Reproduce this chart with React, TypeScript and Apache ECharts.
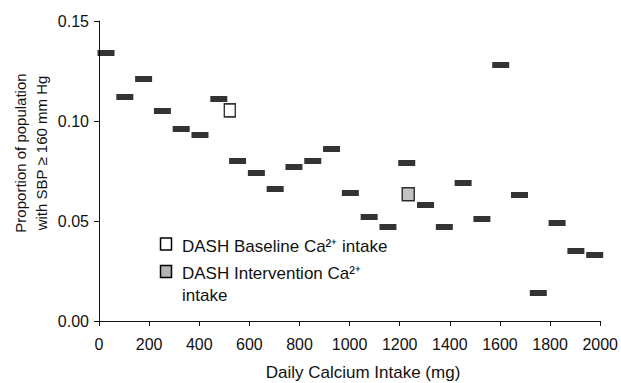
import React, { useEffect, useRef } from "react";
import * as echarts from "echarts";

const intakeMg = [28, 103, 178, 253, 328, 403, 478, 553, 628, 703, 778, 853, 928, 1003, 1078, 1153, 1228, 1303, 1378, 1453, 1528, 1603, 1678, 1753, 1828, 1903, 1978];
const proportion = [0.134, 0.112, 0.121, 0.105, 0.096, 0.093, 0.111, 0.080, 0.074, 0.066, 0.077, 0.080, 0.086, 0.064, 0.052, 0.047, 0.079, 0.058, 0.047, 0.069, 0.051, 0.128, 0.063, 0.014, 0.049, 0.035, 0.033];
const baselinePoint = [522, 0.1053];
const interventionPoint = [1234, 0.0634];
const xTicks = [0, 200, 400, 600, 800, 1000, 1200, 1400, 1600, 1800, 2000];
const yTicks = [0, 0.05, 0.1, 0.15];

const FONT = "'Liberation Sans', Arial, Helvetica, sans-serif";

export default function App() {
  const ref = useRef<HTMLDivElement>(null);
  useEffect(() => {
    if (!ref.current) return;
    const chart = echarts.init(ref.current, null, { renderer: "svg" });
    chart.setOption({
      animation: false,
      backgroundColor: "#ffffff",
      grid: { left: 99, right: 20, top: 21, bottom: 62, containLabel: false },
      xAxis: {
        type: "value",
        min: xTicks[0],
        max: xTicks[xTicks.length - 1],
        interval: 200,
        axisLine: { show: true, lineStyle: { color: "#111", width: 1 } },
        axisTick: { show: true, length: 5, lineStyle: { color: "#111" } },
        axisLabel: {
          color: "#111",
          fontSize: 16,
          fontFamily: FONT,
          margin: 15,
          formatter: (v: number) => String(v),
        },
        splitLine: { show: false },
      },
      yAxis: {
        type: "value",
        min: yTicks[0],
        max: yTicks[yTicks.length - 1],
        interval: 0.05,
        axisLine: { show: true, lineStyle: { color: "#111", width: 1 } },
        axisTick: { show: true, length: 5, lineStyle: { color: "#111" } },
        axisLabel: {
          color: "#111",
          fontSize: 16,
          fontFamily: FONT,
          margin: 10,
          formatter: (v: number) => v.toFixed(2),
        },
        splitLine: { show: false },
      },
      series: [
        {
          type: "scatter",
          name: "Population",
          symbol: "rect",
          symbolSize: [17, 6],
          itemStyle: { color: "#000" },
          data: intakeMg.map((x, i) => [x, proportion[i]]),
          z: 2,
        },
        {
          type: "scatter",
          name: "DASH Baseline",
          symbol: "rect",
          symbolSize: [11, 13],
          itemStyle: { color: "#fff", borderColor: "#000", borderWidth: 1.5 },
          data: [baselinePoint],
          z: 3,
        },
        {
          type: "scatter",
          name: "DASH Intervention",
          symbol: "rect",
          symbolSize: [12, 13],
          itemStyle: { color: "#b4b4b4", borderColor: "#000", borderWidth: 1.5 },
          data: [interventionPoint],
          z: 3,
        },
      ],
      graphic: [
        {
          type: "text",
          x: 30.5,
          y: 153,
          rotation: Math.PI / 2,
          style: {
            text: "Proportion of population\nwith SBP \u2265 160 mm Hg",
            font: `15px ${FONT}`,
            fill: "#111",
            align: "center",
            verticalAlign: "middle",
            lineHeight: 21,
          },
        },
        {
          type: "text",
          x: 363,
          y: 372,
          style: {
            text: "Daily Calcium Intake (mg)",
            font: `17px ${FONT}`,
            fill: "#111",
            align: "center",
            verticalAlign: "middle",
          },
        },
        {
          type: "rect",
          shape: { x: 160.5, y: 238, width: 11, height: 12 },
          style: { fill: "#fff", stroke: "#000", lineWidth: 1.5 },
        },
        {
          type: "text",
          x: 182,
          y: 246,
          style: {
            text: "DASH Baseline Ca\u00b2\u207a intake",
            font: `17px ${FONT}`,
            fill: "#111",
            align: "left",
            verticalAlign: "middle",
          },
        },
        {
          type: "rect",
          shape: { x: 160.5, y: 265.5, width: 11, height: 12 },
          style: { fill: "#b4b4b4", stroke: "#000", lineWidth: 1.5 },
        },
        {
          type: "text",
          x: 182,
          y: 262,
          style: {
            text: "DASH Intervention Ca\u00b2\u207a\nintake",
            font: `17px ${FONT}`,
            fill: "#111",
            align: "left",
            verticalAlign: "top",
            lineHeight: 22,
          },
        },
      ],
    });
    return () => chart.dispose();
  }, []);
  return (
    <div
      ref={ref}
      style={{ position: "fixed", left: 0, top: 0, width: 621, height: 383 }}
    />
  );
}
